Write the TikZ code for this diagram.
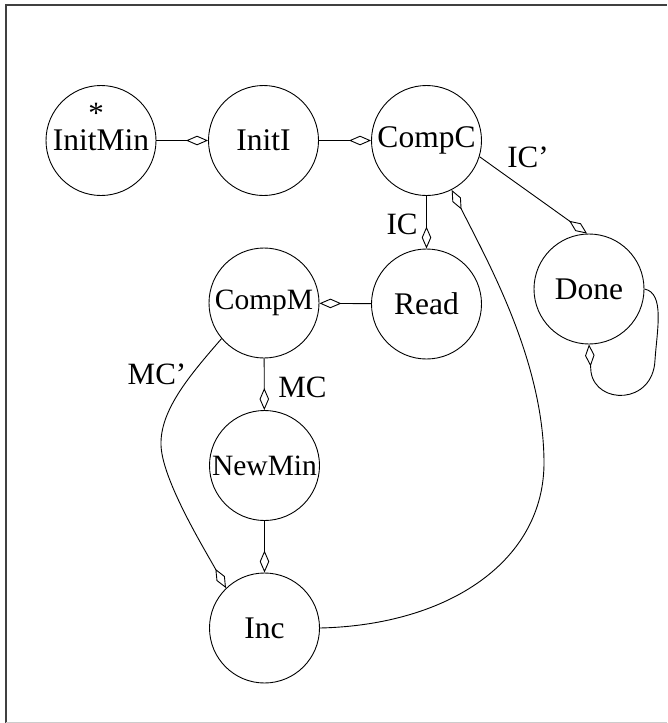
\documentclass[tikz,border=0pt]{standalone}
\usepackage{fontspec}
\setmainfont{Liberation Serif}
\usetikzlibrary{arrows.meta}
\begin{document}
\begin{tikzpicture}[x=1pt,y=-1pt,
  state/.style={circle,draw,line width=0.9pt,minimum size=110pt,inner sep=0pt,font=\fontsize{31.5}{32}\selectfont},
  smallstate/.style={state,font=\fontsize{29.5}{30}\selectfont},
  arr/.style={draw,line width=0.9pt,-{Diamond[open,length=22pt,width=9.5pt]}},
  lbl/.style={font=\fontsize{31}{31}\selectfont,inner sep=0pt}]
\useasboundingbox (0,0) rectangle (667,723);
\draw[line width=2pt,black!75] (5.5,723) -- (5.5,5) -- (667,5);
\draw[gray!40,line width=1pt] (5.5,722) -- (667,722);
% states
\node[state] (InitMin) at (101,140.5) {InitMin};
\node[state] (InitI) at (263.5,140.5) {InitI};
\node[state] (CompC) at (426.5,140.5) {CompC};
\node[state] (Read) at (426.5,304) {Read};
\node[state] (Done) at (589,289) {Done};
\node[smallstate] (CompM) at (264,303) {CompM};
\node[smallstate] (NewMin) at (264.5,465.5) {NewMin};
\node[state] (Inc) at (264.5,628) {Inc};
\node[lbl,anchor=north] (star) at (96,103) {*};
% transitions
\draw[arr] (InitMin) -- (InitI);
\draw[arr] (InitI) -- (CompC);
\draw[arr] (CompC) -- (Read);
\draw[arr] (CompC.-17) -- (Done.92);
\draw[arr] (Read) -- (CompM);
\draw[arr] (CompM) -- (NewMin);
\draw[arr] (NewMin) -- (Inc);
\draw[arr] (CompM.220) .. controls (190,375) and (160,410) .. (161,445)
  .. controls (162,480) and (205,550) .. (Inc.134);
\draw[arr] (Inc.east) .. controls (450,625) and (545,560) .. (544,461)
  .. controls (543,360) and (488,262) .. (CompC.-63);
\draw[arr] (Done.east) .. controls (665,293) and (657,330) .. (655,360)
  .. controls (653,405) and (596,405) .. (591,372) -- (Done.south);
% labels
\node[lbl] (lIC) at (402,224) {IC};
\node[lbl] (lICp) at (528,157) {IC'};
\node[lbl] (lMC) at (302.5,387) {MC};
\node[lbl] (lMCp) at (157,374) {MC'};
\end{tikzpicture}
\end{document}
